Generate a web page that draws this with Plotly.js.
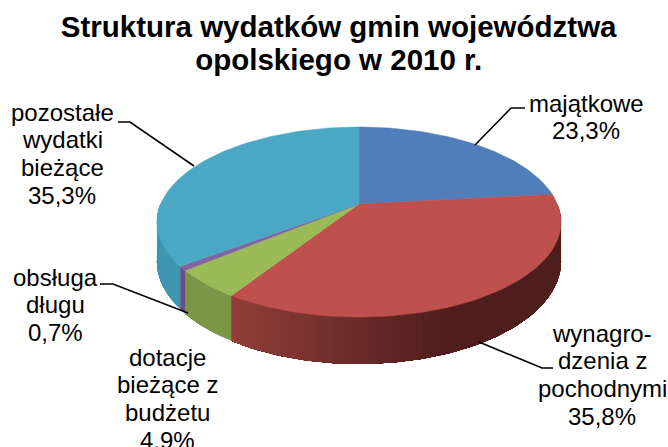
<!DOCTYPE html>
<html><head><meta charset="utf-8">
<script src="https://cdn.plot.ly/plotly-3.0.1.min.js"></script>
<style>html,body{margin:0;padding:0;background:#fff}</style></head>
<body><div id="chart" style="width:668px;height:447px"></div>
<script>
const categories = [["majątkowe"],["wynagro-","dzenia z","pochodnymi"],["dotacje","bieżące z","budżetu"],["obsługa","długu"],["pozostałe","wydatki","bieżące"]];
const values = [23.3,35.8,4.9,0.7,35.3];
const valueLabels = ["23,3%","35,8%","4,9%","0,7%","35,3%"];
const topColors = ["#4F7EBA","#BE504D","#9BBB59","#8064A2","#4AA8C4"];
const sideLight = [[60,100,150],[146,62,58],[124,150,71],[104,80,135],[62,150,175]];
const sideDark  = [[60,100,150],[78,30,28],[124,150,71],[104,80,135],[62,150,175]];
const labelX = [586,602,167,55,62];
const labelY = [103,333,357,277,112];
const lineStep = 27.7;
const leaderX = [[525,511,475],[553,542,479],[],[100,113,188],[118,130,194]];
const leaderY = [[108,108,145],[368,368,342],[],[284,284,313],[122,122,166]];

const cx=359, cy=204, A=198.4, B=91.6, k=0.1895, H=38, N=240;
function topPt(a){const u=Math.sin(a),v=Math.cos(a),w=1+k*v;return [cx+A*u/w, cy-B*v/w];}
function botPt(a){const u=Math.sin(a),v=Math.cos(a),w=1+k*v;return [cx+A*u/w, cy-B*v/w+H/w];}
const total=values.reduce((s,v)=>s+v,0);
const traces=[];
function poly(pts,color,lw){traces.push({type:"scatter",mode:"lines",x:pts.map(p=>p[0]),y:pts.map(p=>p[1]),
  fill:"toself",fillcolor:color,line:{color:color,width:lw},hoverinfo:"skip",showlegend:false});}
let c=0; const spans=values.map(v=>{const s=c;c+=v;return [s/total*2*Math.PI,c/total*2*Math.PI];});
// each wall strip reaches to the end of its slice and is overpainted by the next one, so no seams show
spans.forEach((sp,i)=>{
  const a0=Math.max(sp[0],Math.PI/2), a1=Math.min(sp[1],Math.PI*1.5);
  if(a1<=a0) return;
  const n=Math.max(2,Math.round((a1-a0)/(2*Math.PI)*N));
  for(let j=0;j<n;j++){
    const s=a0+(a1-a0)*j/n, e=a1, pts=[];
    const m=Math.max(3,Math.round((e-s)/0.02));
    for(let t=0;t<=m;t++){pts.push(topPt(s+(e-s)*t/m));}
    for(let t=m;t>=0;t--){pts.push(botPt(s+(e-s)*t/m));}
    pts.push(pts[0]);
    const xm=topPt(s)[0];
    const f=Math.min(1,Math.max(0,(xm-232)/(450-232)));
    const col=sideLight[i].map((q,r)=>Math.round(q+(sideDark[i][r]-q)*f));
    poly(pts,"rgb("+col.join(",")+")",0);
  }
});
spans.forEach((sp,i)=>{
  const pts=[[cx,cy]];
  const n=Math.max(3,Math.round((sp[1]-sp[0])/(2*Math.PI)*N));
  for(let j=0;j<=n;j++)pts.push(topPt(sp[0]+(sp[1]-sp[0])*j/n));
  pts.push([cx,cy]);
  poly(pts,topColors[i],0.5);
});
leaderX.forEach((lx,i)=>{ if(lx.length) traces.push({type:"scatter",mode:"lines",x:lx,y:leaderY[i],
  line:{color:"#000",width:1.6},hoverinfo:"skip",showlegend:false});});
const annotations=[];
categories.forEach((lines,i)=>{
  lines.concat([valueLabels[i]]).forEach((t,j)=>annotations.push({x:labelX[i],y:labelY[i]+j*lineStep,xref:"x",yref:"y",showarrow:false,
    text:t,align:"center",xanchor:"center",yanchor:"middle",
    font:{family:"Liberation Sans, Arial, sans-serif",size:24,color:"#000"}}));
});
const layout={width:668,height:447,margin:{l:0,r:0,t:0,b:0},paper_bgcolor:"#fff",plot_bgcolor:"#fff",showlegend:false,
  title:{text:"Struktura wydatków gmin województwa<br>opolskiego w 2010 r.",x:0.507,xanchor:"center",y:0.918,yanchor:"middle",
    font:{family:"Liberation Sans, Arial, sans-serif",size:29.5,color:"#000",weight:700}},
  xaxis:{range:[0,668],visible:false,fixedrange:true},
  yaxis:{range:[447,0],visible:false,fixedrange:true},
  annotations};
Plotly.newPlot("chart",traces,layout,{displayModeBar:false,staticPlot:true}).then(function(){
  const second=document.querySelectorAll(".gtitle tspan.line")[1];
  if(second) second.setAttribute("dy","1.135em");
});
</script></body></html>
